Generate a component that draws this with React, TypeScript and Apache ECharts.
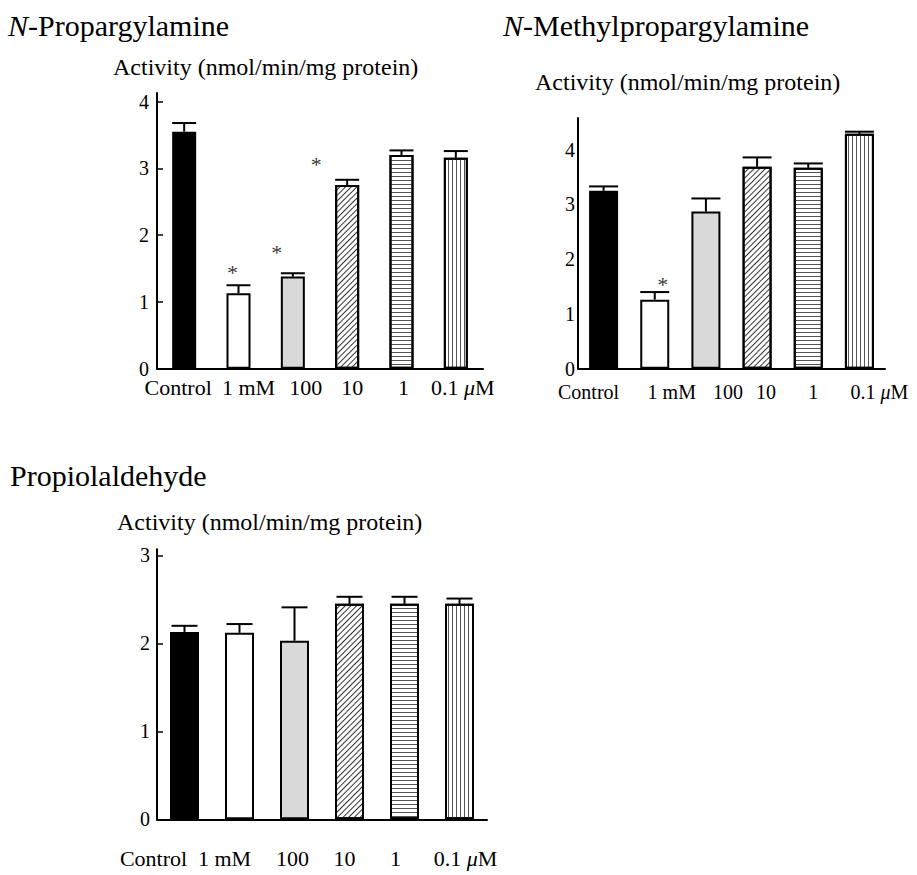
import React, { useEffect, useRef } from 'react';
import * as echarts from 'echarts';

// ---------- data ----------
const categories = ['Control', '1 mM', '100', '10', '1', '0.1 μM'];
const yTicksPropargyl = [0, 1, 2, 3, 4];
const yTicksMethyl = [0, 1, 2, 3, 4];
const yTicksPropiol = [0, 1, 2, 3];

const propargylMean = [3.55, 1.13, 1.38, 2.75, 3.2, 3.16];
const propargylErrTop = [3.68, 1.25, 1.43, 2.83, 3.27, 3.26];
const propargylStar = [null, 1.49, 1.79, 3.11, null, null];

const methylMean = [3.25, 1.26, 2.87, 3.69, 3.67, 4.29];
const methylErrTop = [3.33, 1.4, 3.11, 3.86, 3.75, 4.33];
const methylStar = [null, 1.6, null, null, null, null];

const propiolMean = [2.13, 2.12, 2.03, 2.45, 2.45, 2.45];
const propiolErrTop = [2.2, 2.22, 2.41, 2.53, 2.53, 2.51];

const titles = ['N-Propargylamine', 'N-Methylpropargylamine', 'Propiolaldehyde'];
const yAxisName = 'Activity (nmol/min/mg protein)';

// ---------- styles ----------
const FONT = '"Liberation Serif", "Times New Roman", serif';

const barStyles: any[] = [
  { color: '#000000' },
  { color: '#ffffff' },
  { color: '#d9d9d9' },
  {
    color: '#ffffff',
    decal: { symbol: 'rect', symbolSize: 1, color: '#333333', dashArrayX: [1, 0], dashArrayY: [1, 2.2], rotation: -Math.PI / 4 },
  },
  {
    color: '#ffffff',
    decal: { symbol: 'rect', symbolSize: 1, color: '#555555', dashArrayX: [1, 0], dashArrayY: [1, 3] },
  },
  {
    color: '#ffffff',
    decal: { symbol: 'rect', symbolSize: 1, color: '#555555', dashArrayX: [1, 3], dashArrayY: [1, 0] },
  },
];

function labelItems(shifts: number[]) {
  return categories.map((c, i) => {
    const d = shifts[i];
    const pad = d >= 0 ? [0, 0, 0, 2 * d] : [0, -2 * d, 0, 0];
    return { value: c, textStyle: { padding: pad } };
  });
}

function xAxisCfg(gi: number, shifts: number[], fontSize: number, margin: number) {
  return {
    type: 'category',
    gridIndex: gi,
    data: labelItems(shifts),
    axisLine: { show: true, lineStyle: { color: '#000', width: 2 } },
    axisTick: { show: false },
    axisLabel: {
      interval: 0,
      margin,
      color: '#000',
      fontSize,
      lineHeight: fontSize - 4,
      fontFamily: FONT,
      formatter: (v: string) => v.replace('μ', '{i|μ}'),
      rich: { i: { fontStyle: 'italic', fontSize, lineHeight: fontSize - 4, fontFamily: FONT, color: '#000' } },
    },
    splitLine: { show: false },
  };
}

function yAxisCfg(gi: number, max: number, ticks: number[], showTicks: boolean, margin: number) {
  return {
    type: 'value',
    gridIndex: gi,
    min: 0,
    max,
    axisLine: { show: true, lineStyle: { color: '#000', width: 2 } },
    splitLine: { show: false },
    axisTick: { show: showTicks, inside: true, length: 6, customValues: ticks, lineStyle: { color: '#000', width: 1.5 } },
    axisLabel: { customValues: ticks, color: '#000', fontSize: 20, lineHeight: 13, fontFamily: FONT, margin },
  };
}

function barSeries(gi: number, values: number[], barWidth: number) {
  return {
    type: 'bar',
    xAxisIndex: gi,
    yAxisIndex: gi,
    barWidth,
    data: values.map((v, i) => ({
      value: v,
      itemStyle: { ...barStyles[i], borderColor: '#000', borderWidth: 2 },
    })),
    z: 2,
  };
}

function errSeries(gi: number, mean: number[], top: number[], capW: number) {
  return {
    type: 'custom',
    xAxisIndex: gi,
    yAxisIndex: gi,
    z: 5,
    data: mean.map((m, i) => [i, m, top[i]]),
    encode: { x: 0, y: [1, 2] },
    renderItem: (_p: any, api: any) => {
      const x = api.value(0);
      const a = api.coord([x, api.value(1)]);
      const b = api.coord([x, api.value(2)]);
      const cx = a[0];
      return {
        type: 'group',
        children: [
          { type: 'line', shape: { x1: cx, y1: a[1], x2: cx, y2: b[1] }, style: { stroke: '#000', lineWidth: 2 } },
          { type: 'line', shape: { x1: cx - capW / 2, y1: b[1], x2: cx + capW / 2, y2: b[1] }, style: { stroke: '#000', lineWidth: 2 } },
        ],
      };
    },
  };
}

function starSeries(gi: number, stars: (number | null)[], dx: number[]) {
  const data: any[] = [];
  stars.forEach((v, i) => {
    if (v != null) data.push({ value: [i, v], label: { offset: [dx[i], 3] } });
  });
  return {
    type: 'scatter',
    xAxisIndex: gi,
    yAxisIndex: gi,
    symbol: 'circle',
    symbolSize: 1,
    itemStyle: { color: 'rgba(0,0,0,0)' },
    z: 6,
    label: { show: true, position: 'inside', formatter: '*', color: '#000', fontSize: 22, fontFamily: FONT },
    data,
  };
}

function titleCfg(text: string, left: number, top: number, fontSize: number) {
  return {
    text,
    left,
    top,
    padding: 0,
    textStyle: {
      fontSize,
      fontWeight: 'normal',
      fontFamily: FONT,
      color: '#000',
      rich: { i: { fontStyle: 'italic', fontSize, fontFamily: FONT, color: '#000' } },
    },
  };
}

const italicN = (t: string) => (t.startsWith('N-') ? '{i|N}' + t.slice(1) : t);

export default function App() {
  const ref = useRef<HTMLDivElement>(null);
  useEffect(() => {
    if (!ref.current) return;
    const chart = echarts.init(ref.current, null, { renderer: 'svg' });
    const option: any = {
      animation: false,
      backgroundColor: '#ffffff',
      title: [
        titleCfg(italicN(titles[0]), 8, 10, 30),
        titleCfg(italicN(titles[1]), 503, 10, 30),
        titleCfg(titles[2], 10, 460, 30),
        titleCfg(yAxisName, 113, 55, 24),
        titleCfg(yAxisName, 535, 70, 24),
        titleCfg(yAxisName, 117, 510, 24),
      ],
      grid: [
        { left: 157, top: 93, width: 326, height: 275.7 },
        { left: 578, top: 118, width: 307, height: 250.7 },
        { left: 157, top: 549.3, width: 330, height: 270 },
      ],
      xAxis: [
        xAxisCfg(0, [-6, 10, 13, 5, 2, 7], 22, 10),
        xAxisCfg(1, [-15, 17, 22, 9, 5, 20], 20, 15),
        xAxisCfg(2, [-31, -15, -2, -5, -9, 6], 22, 30),
      ],
      yAxis: [
        yAxisCfg(0, 4.13, yTicksPropargyl, true, 8),
        yAxisCfg(1, 4.58, yTicksMethyl, false, 3),
        yAxisCfg(2, 3.07, yTicksPropiol, true, 7),
      ],
      series: [
        barSeries(0, propargylMean, 24),
        errSeries(0, propargylMean, propargylErrTop, 24),
        starSeries(0, propargylStar, [0, -6, -16, -31, 0, 0]),
        barSeries(1, methylMean, 29),
        errSeries(1, methylMean, methylErrTop, 29),
        starSeries(1, methylStar, [0, 8, 0, 0, 0, 0]),
        barSeries(2, propiolMean, 29),
        errSeries(2, propiolMean, propiolErrTop, 26),
      ],
    };
    chart.setOption(option);
    return () => chart.dispose();
  }, []);
  return (
    <div
      ref={ref}
      style={{ position: 'absolute', left: 0, top: 0, width: 917, height: 875, background: '#fff' }}
    />
  );
}
